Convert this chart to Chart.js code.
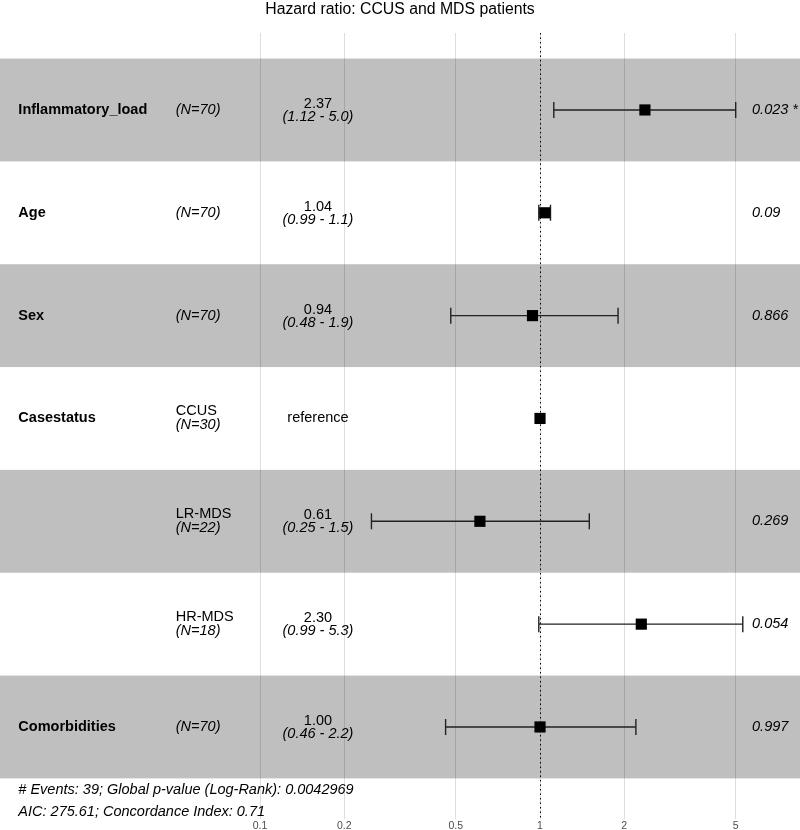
<!DOCTYPE html>
<html>
<head>
<meta charset="utf-8">
<script src="https://cdn.jsdelivr.net/npm/chart.js@4/dist/chart.umd.min.js"></script>
<style>
  html, body { margin: 0; padding: 0; background: #fff; }
  #wrap { width: 800px; height: 830px; }
</style>
</head>
<body>
<div id="wrap"><canvas id="forest"></canvas></div>
<script>
// Datos del forest plot (una fila por nivel)
const variables = ['Inflammatory_load', 'Age', 'Sex', 'Casestatus', '', '', 'Comorbidities'];
const levels = ['', '', '', 'CCUS', 'LR-MDS', 'HR-MDS', ''];
const nCounts = [70, 70, 70, 30, 22, 18, 70];
const hazardRatios = [2.37, 1.04, 0.94, 1, 0.61, 2.30, 1.00];
const ciLower = [1.12, 0.99, 0.48, null, 0.25, 0.99, 0.46];
const ciUpper = [5.0, 1.09, 1.9, null, 1.5, 5.3, 2.2];
const ciLabels = ['(1.12 - 5.0)', '(0.99 - 1.1)', '(0.48 - 1.9)', '', '(0.25 - 1.5)', '(0.99 - 5.3)', '(0.46 - 2.2)'];
const pValues = ['0.023 *', '0.09', '0.866', '', '0.269', '0.054', '0.997'];
const xTicks = [0.1, 0.2, 0.5, 1, 2, 5];
const footer = ['# Events: 39; Global p-value (Log-Rank): 0.0042969', 'AIC: 275.61; Concordance Index: 0.71'];

// columnas de texto (en unidades del eje x)
const colVar = 0.0137, colN = 0.05, colHR = 0.161, colP = 5.72;
const FONT = '"Liberation Sans", Arial, Helvetica, sans-serif';

const rowY = hazardRatios.map((_, i) => i + 1);

const forestPlugin = {
  id: 'forest',
  beforeDatasetsDraw(chart) {
    const { ctx, chartArea: a, scales: { x, y } } = chart;
    ctx.save();
    ctx.beginPath();
    ctx.rect(a.left, a.top, a.right - a.left, a.bottom - a.top);
    ctx.clip();
    // bandas grises alternas
    ctx.fillStyle = 'rgba(0,0,0,0.25)';
    rowY.forEach((r, i) => {
      if (i % 2 === 0) {
        const t = y.getPixelForValue(r - 0.5), b = y.getPixelForValue(r + 0.5);
        ctx.fillRect(a.left, t, a.right - a.left, b - t);
      }
    });
    // linea punteada en HR = 1
    const x1 = Math.round(x.getPixelForValue(1)) + 0.5;
    ctx.strokeStyle = '#000';
    ctx.lineWidth = 1;
    ctx.setLineDash([1.5, 3]);
    ctx.beginPath();
    ctx.moveTo(x1, a.top);
    ctx.lineTo(x1, a.bottom);
    ctx.stroke();
    ctx.setLineDash([]);
    // intervalos de confianza
    ctx.strokeStyle = '#222';
    ctx.lineWidth = 1.4;
    rowY.forEach((r, i) => {
      if (ciLower[i] == null) return;
      const py = y.getPixelForValue(r);
      const lo = x.getPixelForValue(ciLower[i]), hi = x.getPixelForValue(ciUpper[i]);
      ctx.beginPath();
      ctx.moveTo(lo, py); ctx.lineTo(hi, py);
      ctx.moveTo(lo, py - 8); ctx.lineTo(lo, py + 8);
      ctx.moveTo(hi, py - 8); ctx.lineTo(hi, py + 8);
      ctx.stroke();
    });
    ctx.restore();
  },
  afterDraw(chart) {
    const { ctx, scales: { x, y } } = chart;
    ctx.save();
    ctx.fillStyle = '#000';
    ctx.textBaseline = 'middle';
    rowY.forEach((r, i) => {
      const py = y.getPixelForValue(r);
      // variable
      if (variables[i]) {
        ctx.font = 'bold 14.5px ' + FONT;
        ctx.textAlign = 'left';
        ctx.fillText(variables[i], x.getPixelForValue(colVar), py);
      }
      // nivel y N
      ctx.textAlign = 'left';
      if (levels[i]) {
        ctx.font = '14.5px ' + FONT;
        ctx.fillText(levels[i], x.getPixelForValue(colN), py - 7);
        ctx.font = 'italic 14.5px ' + FONT;
        ctx.fillText('(N=' + nCounts[i] + ')', x.getPixelForValue(colN), py + 7);
      } else {
        ctx.font = 'italic 14.5px ' + FONT;
        ctx.fillText('(N=' + nCounts[i] + ')', x.getPixelForValue(colN), py);
      }
      // HR e IC
      ctx.textAlign = 'center';
      if (ciLower[i] == null) {
        ctx.font = '14.5px ' + FONT;
        ctx.fillText('reference', x.getPixelForValue(colHR), py);
      } else {
        ctx.font = '14.5px ' + FONT;
        ctx.fillText(hazardRatios[i].toFixed(2), x.getPixelForValue(colHR), py - 6);
        ctx.font = 'italic 14.5px ' + FONT;
        ctx.fillText(ciLabels[i], x.getPixelForValue(colHR), py + 7);
      }
      // p-valor
      if (pValues[i]) {
        ctx.textAlign = 'left';
        ctx.font = 'italic 14.5px ' + FONT;
        ctx.fillText(pValues[i], x.getPixelForValue(colP), py);
      }
    });
    // pie con estadisticos globales
    ctx.textAlign = 'left';
    ctx.font = 'italic 14.5px ' + FONT;
    ctx.fillText(footer[0], x.getPixelForValue(colVar), y.getPixelForValue(7.613));
    ctx.fillText(footer[1], x.getPixelForValue(colVar), y.getPixelForValue(7.827));
    ctx.restore();
  }
};

new Chart(document.getElementById('forest'), {
  type: 'scatter',
  data: {
    datasets: [{
      label: 'Hazard ratio',
      data: hazardRatios.map((hr, i) => ({ x: hr, y: rowY[i] })),
      backgroundColor: '#000',
      borderColor: '#000',
      pointStyle: 'rect',
      pointRadius: 7.9,
      pointHoverRadius: 7.9,
      borderWidth: 0
    }]
  },
  options: {
    responsive: true,
    maintainAspectRatio: false,
    animation: false,
    layout: { autoPadding: false, padding: 0 },
    plugins: {
      legend: { display: false },
      tooltip: { enabled: false },
      title: {
        display: true,
        text: 'Hazard ratio: CCUS and MDS patients',
        color: '#000',
        font: { family: FONT, size: 15.8, weight: 'normal' },
        padding: { top: 0, bottom: 14 }
      }
    },
    scales: {
      x: {
        type: 'logarithmic',
        min: 0.01178,
        max: 8.485,
        afterBuildTicks: scale => { scale.ticks = xTicks.map(v => ({ value: v })); },
        afterFit: scale => { scale.height = 11; },
        ticks: {
          autoSkip: false,
          maxRotation: 0,
          padding: 1,
          color: '#4d4d4d',
          font: { family: FONT, size: 10.5 },
          callback: v => String(v)
        },
        grid: { color: '#dedede', lineWidth: 1, drawTicks: false },
        border: { display: false }
      },
      y: {
        type: 'linear',
        display: false,
        reverse: true,
        min: 0.2512,
        max: 7.895
      }
    }
  },
  plugins: [forestPlugin]
});
</script>
</body>
</html>
